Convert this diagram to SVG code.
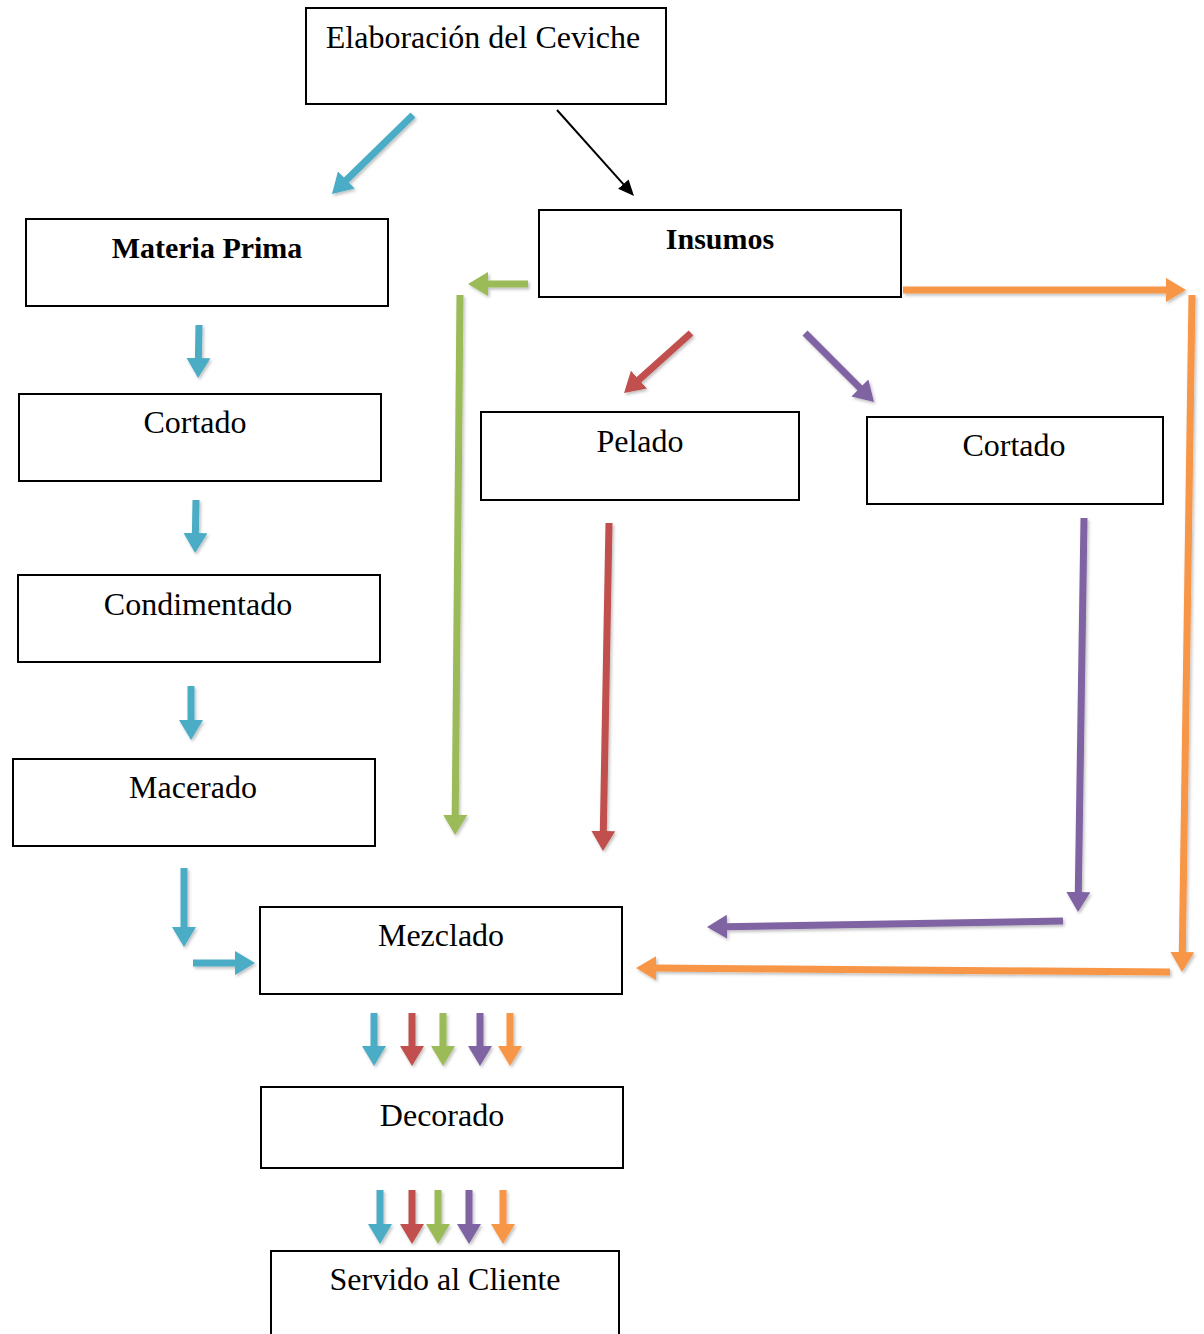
<svg xmlns="http://www.w3.org/2000/svg" width="1204" height="1334" viewBox="0 0 1204 1334">
<style>
.box{fill:#fff;stroke:#000;stroke-width:2}
.t{font-family:"Liberation Serif","Times New Roman",serif;font-size:32px;fill:#000;text-anchor:middle}
.b{font-weight:bold;font-size:30px}
.a{fill:none;stroke-width:7}
.blue{stroke:#4BACC6}.red{stroke:#C0504D}.green{stroke:#9BBB59}.purple{stroke:#8064A2}.orange{stroke:#F79646}
</style>
<defs>
<filter id="sh" filterUnits="userSpaceOnUse" x="0" y="0" width="1204" height="1334"><feDropShadow dx="1.5" dy="2" stdDeviation="1.5" flood-color="#000" flood-opacity="0.25"/></filter>
<marker id="mBlue" markerUnits="userSpaceOnUse" markerWidth="24" markerHeight="26" refX="1" refY="12" orient="auto"><path d="M0,0 L20,12 L0,24z" fill="#4BACC6"/></marker>
<marker id="mRed" markerUnits="userSpaceOnUse" markerWidth="24" markerHeight="26" refX="1" refY="12" orient="auto"><path d="M0,0 L20,12 L0,24z" fill="#C0504D"/></marker>
<marker id="mGreen" markerUnits="userSpaceOnUse" markerWidth="24" markerHeight="26" refX="1" refY="12" orient="auto"><path d="M0,0 L20,12 L0,24z" fill="#9BBB59"/></marker>
<marker id="mPurple" markerUnits="userSpaceOnUse" markerWidth="24" markerHeight="26" refX="1" refY="12" orient="auto"><path d="M0,0 L20,12 L0,24z" fill="#8064A2"/></marker>
<marker id="mOrange" markerUnits="userSpaceOnUse" markerWidth="24" markerHeight="26" refX="1" refY="12" orient="auto"><path d="M0,0 L20,12 L0,24z" fill="#F79646"/></marker>
<marker id="mBlack" markerUnits="userSpaceOnUse" markerWidth="18" markerHeight="16" refX="1" refY="7" orient="auto"><path d="M0,0 L16,7 L0,14z" fill="#000"/></marker>
</defs>
<rect width="1204" height="1334" fill="#fff"/>
<g id="connectors">
<line x1="557" y1="110" x2="624" y2="184.8" stroke="#000" stroke-width="2" marker-end="url(#mBlack)"/>
<g filter="url(#sh)">
<line x1="413" y1="115" x2="345.6" y2="180.7" class="a blue" marker-end="url(#mBlue)"/>
<line x1="528" y1="284" x2="487" y2="284" class="a green" marker-end="url(#mGreen)"/>
<line x1="460" y1="295" x2="455.2" y2="816" class="a green" marker-end="url(#mGreen)"/>
<line x1="903" y1="290" x2="1167" y2="290" class="a orange" marker-end="url(#mOrange)"/>
<line x1="1192" y1="295" x2="1182.3" y2="953" class="a orange" marker-end="url(#mOrange)"/>
<line x1="1170" y1="972" x2="655" y2="968.1" class="a orange" marker-end="url(#mOrange)"/>
<line x1="691" y1="333" x2="638.2" y2="380.3" class="a red" marker-end="url(#mRed)"/>
<line x1="609" y1="523" x2="603.3" y2="832" class="a red" marker-end="url(#mRed)"/>
<line x1="805" y1="333" x2="860.6" y2="388.6" class="a purple" marker-end="url(#mPurple)"/>
<line x1="1084" y1="518" x2="1078.3" y2="893" class="a purple" marker-end="url(#mPurple)"/>
<line x1="1063" y1="921" x2="726" y2="926.7" class="a purple" marker-end="url(#mPurple)"/>
<line x1="199" y1="325" x2="198.4" y2="359" class="a blue" marker-end="url(#mBlue)"/>
<line x1="196" y1="500" x2="195.4" y2="534" class="a blue" marker-end="url(#mBlue)"/>
<line x1="191" y1="686" x2="191" y2="721" class="a blue" marker-end="url(#mBlue)"/>
<line x1="184" y1="868" x2="184" y2="928" class="a blue" marker-end="url(#mBlue)"/>
<line x1="193" y1="963" x2="236" y2="963" class="a blue" marker-end="url(#mBlue)"/>
<line x1="374" y1="1013" x2="374" y2="1047" class="a blue" marker-end="url(#mBlue)"/>
<line x1="412" y1="1013" x2="412" y2="1047" class="a red" marker-end="url(#mRed)"/>
<line x1="443" y1="1013" x2="443" y2="1047" class="a green" marker-end="url(#mGreen)"/>
<line x1="480" y1="1013" x2="480" y2="1047" class="a purple" marker-end="url(#mPurple)"/>
<line x1="510" y1="1013" x2="510" y2="1047" class="a orange" marker-end="url(#mOrange)"/>
<line x1="380" y1="1190" x2="380" y2="1225" class="a blue" marker-end="url(#mBlue)"/>
<line x1="412" y1="1190" x2="412" y2="1225" class="a red" marker-end="url(#mRed)"/>
<line x1="438" y1="1190" x2="438" y2="1225" class="a green" marker-end="url(#mGreen)"/>
<line x1="469" y1="1190" x2="469" y2="1225" class="a purple" marker-end="url(#mPurple)"/>
<line x1="503" y1="1190" x2="503" y2="1225" class="a orange" marker-end="url(#mOrange)"/>
</g>
</g>
<g id="n-elaboracion"><rect class="box" x="306" y="8" width="360" height="96"/><text class="t" x="483" y="48">Elaboración del Ceviche</text></g>
<g id="n-materia"><rect class="box" x="26" y="219" width="362" height="87"/><text class="t b" x="207" y="258">Materia Prima</text></g>
<g id="n-insumos"><rect class="box" x="539" y="210" width="362" height="87"/><text class="t b" x="720" y="249">Insumos</text></g>
<g id="n-cortado1"><rect class="box" x="19" y="394" width="362" height="87"/><text class="t" x="195" y="433">Cortado</text></g>
<g id="n-condimentado"><rect class="box" x="18" y="575" width="362" height="87"/><text class="t" x="198" y="615">Condimentado</text></g>
<g id="n-macerado"><rect class="box" x="13" y="759" width="362" height="87"/><text class="t" x="193" y="798">Macerado</text></g>
<g id="n-pelado"><rect class="box" x="481" y="412" width="318" height="88"/><text class="t" x="640" y="452">Pelado</text></g>
<g id="n-cortado2"><rect class="box" x="867" y="417" width="296" height="87"/><text class="t" x="1014" y="456">Cortado</text></g>
<g id="n-mezclado"><rect class="box" x="260" y="907" width="362" height="87"/><text class="t" x="441" y="946">Mezclado</text></g>
<g id="n-decorado"><rect class="box" x="261" y="1087" width="362" height="81"/><text class="t" x="442" y="1126">Decorado</text></g>
<g id="n-servido"><rect class="box" x="271" y="1251" width="348" height="100"/><text class="t" x="445" y="1290">Servido al Cliente</text></g>
</svg>
